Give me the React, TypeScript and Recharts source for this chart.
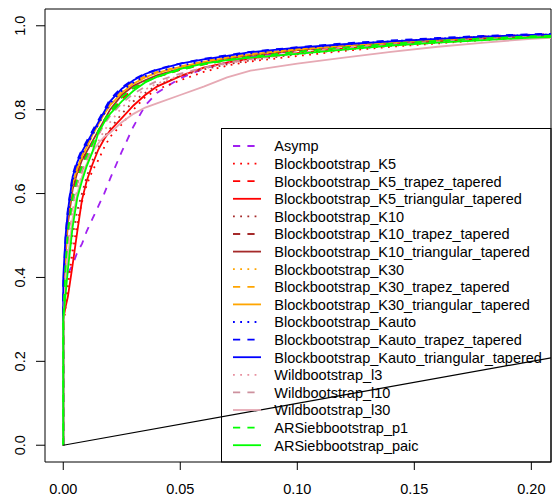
import React from "react";
import { LineChart, Line, XAxis, YAxis, ReferenceArea } from "recharts";

// False positive rate grid (shared by all curves)
const fpr = [0, 0, 0.001, 0.002, 0.004, 0.006, 0.008, 0.01, 0.0125, 0.015, 0.0175, 0.02, 0.025, 0.03, 0.035, 0.04, 0.05, 0.06, 0.07, 0.08, 0.1, 0.12, 0.14, 0.16, 0.18, 0.2, 0.22];

// True positive rates per method
const asymp = [0, 0.36, 0.39, 0.41, 0.43, 0.46, 0.48, 0.51, 0.54, 0.57, 0.6, 0.635, 0.7, 0.76, 0.81, 0.84, 0.875, 0.898, 0.912, 0.926, 0.942, 0.952, 0.962, 0.969, 0.975, 0.979, 0.982];
const bbK5 = [0, 0.28, 0.33, 0.38, 0.46, 0.53, 0.58, 0.62, 0.655, 0.68, 0.71, 0.735, 0.765, 0.8, 0.83, 0.848, 0.87, 0.89, 0.905, 0.915, 0.928, 0.94, 0.95, 0.958, 0.966, 0.972, 0.975];
const bbK5Trapez = [0, 0.3, 0.42, 0.5, 0.58, 0.625, 0.655, 0.68, 0.71, 0.74, 0.77, 0.79, 0.825, 0.85, 0.867, 0.878, 0.895, 0.908, 0.918, 0.926, 0.938, 0.948, 0.957, 0.964, 0.97, 0.975, 0.978];
const bbK5Tri = [0, 0.3, 0.33, 0.355, 0.43, 0.51, 0.585, 0.63, 0.67, 0.705, 0.73, 0.75, 0.78, 0.81, 0.835, 0.855, 0.88, 0.9, 0.912, 0.922, 0.935, 0.946, 0.955, 0.963, 0.969, 0.974, 0.977];
const bbK10 = [0, 0.28, 0.36, 0.42, 0.5, 0.56, 0.6, 0.64, 0.68, 0.71, 0.735, 0.755, 0.79, 0.82, 0.84, 0.858, 0.88, 0.896, 0.908, 0.918, 0.932, 0.943, 0.952, 0.96, 0.967, 0.973, 0.976];
const bbK10Trapez = [0, 0.3, 0.44, 0.52, 0.6, 0.64, 0.67, 0.695, 0.72, 0.75, 0.775, 0.795, 0.83, 0.853, 0.868, 0.88, 0.897, 0.91, 0.92, 0.928, 0.94, 0.95, 0.958, 0.965, 0.971, 0.976, 0.979];
const bbK10Tri = [0, 0.3, 0.45, 0.53, 0.61, 0.65, 0.68, 0.7, 0.725, 0.75, 0.775, 0.8, 0.835, 0.857, 0.87, 0.882, 0.898, 0.912, 0.922, 0.93, 0.942, 0.952, 0.96, 0.966, 0.972, 0.977, 0.98];
const bbK30 = [0, 0.25, 0.45, 0.54, 0.62, 0.655, 0.685, 0.71, 0.74, 0.765, 0.79, 0.81, 0.842, 0.862, 0.876, 0.886, 0.9, 0.912, 0.922, 0.93, 0.942, 0.952, 0.96, 0.967, 0.973, 0.977, 0.98];
const bbK30Trapez = [0, 0.22, 0.47, 0.56, 0.63, 0.665, 0.69, 0.715, 0.745, 0.77, 0.795, 0.815, 0.847, 0.867, 0.88, 0.89, 0.903, 0.915, 0.925, 0.933, 0.945, 0.954, 0.962, 0.968, 0.974, 0.978, 0.981];
const bbK30Tri = [0, 0.3, 0.46, 0.55, 0.625, 0.66, 0.69, 0.71, 0.74, 0.765, 0.79, 0.81, 0.84, 0.862, 0.877, 0.888, 0.902, 0.914, 0.924, 0.932, 0.944, 0.953, 0.961, 0.967, 0.973, 0.977, 0.98];
const bbKauto = [0, 0.35, 0.48, 0.55, 0.63, 0.67, 0.695, 0.715, 0.74, 0.765, 0.79, 0.815, 0.845, 0.865, 0.88, 0.89, 0.905, 0.916, 0.926, 0.934, 0.946, 0.955, 0.963, 0.969, 0.974, 0.978, 0.981];
const bbKautoTrapez = [0, 0.38, 0.5, 0.565, 0.645, 0.68, 0.705, 0.725, 0.75, 0.775, 0.8, 0.825, 0.853, 0.872, 0.886, 0.896, 0.91, 0.921, 0.93, 0.938, 0.949, 0.958, 0.965, 0.971, 0.976, 0.98, 0.982];
const bbKautoTri = [0, 0.4, 0.5, 0.56, 0.64, 0.675, 0.7, 0.72, 0.745, 0.77, 0.795, 0.82, 0.85, 0.87, 0.885, 0.895, 0.91, 0.92, 0.928, 0.937, 0.948, 0.956, 0.963, 0.969, 0.974, 0.978, 0.98];
const wbL3 = [0, 0.28, 0.4, 0.48, 0.56, 0.61, 0.645, 0.67, 0.7, 0.725, 0.75, 0.77, 0.805, 0.83, 0.848, 0.862, 0.882, 0.898, 0.91, 0.92, 0.934, 0.945, 0.954, 0.961, 0.967, 0.973, 0.976];
const wbL10 = [0, 0.27, 0.42, 0.5, 0.58, 0.625, 0.655, 0.68, 0.71, 0.74, 0.765, 0.785, 0.815, 0.838, 0.855, 0.868, 0.886, 0.9, 0.912, 0.921, 0.935, 0.946, 0.955, 0.962, 0.968, 0.974, 0.977];
const wbL30 = [0, 0.28, 0.4, 0.45, 0.54, 0.6, 0.64, 0.67, 0.7, 0.72, 0.735, 0.745, 0.77, 0.79, 0.805, 0.815, 0.835, 0.855, 0.877, 0.893, 0.91, 0.924, 0.938, 0.95, 0.96, 0.969, 0.974];
const arsP1 = [0, 0.3, 0.43, 0.51, 0.59, 0.635, 0.665, 0.69, 0.72, 0.75, 0.775, 0.795, 0.83, 0.852, 0.867, 0.878, 0.895, 0.908, 0.918, 0.926, 0.938, 0.948, 0.957, 0.964, 0.97, 0.975, 0.978];
const arsPaic = [0, 0.3, 0.36, 0.42, 0.52, 0.59, 0.63, 0.665, 0.7, 0.745, 0.77, 0.79, 0.82, 0.845, 0.865, 0.878, 0.897, 0.91, 0.918, 0.924, 0.933, 0.943, 0.953, 0.96, 0.966, 0.972, 0.975];

// Reference diagonal
const diagX = [0, 1];
const diagY = [0, 1];

const xTicks = [0, 0.05, 0.1, 0.15, 0.2];
const yTicks = [0, 0.2, 0.4, 0.6, 0.8, 1.0];

const DOT = "1.8 5.4";
const DASH = "7.2 7.2";

const series = [
  { name: "Asymp", tpr: asymp, color: "#A020F0", dash: DASH },
  { name: "Blockbootstrap_K5", tpr: bbK5, color: "#FF0000", dash: DOT },
  { name: "Blockbootstrap_K5_trapez_tapered", tpr: bbK5Trapez, color: "#FF0000", dash: DASH },
  { name: "Blockbootstrap_K5_triangular_tapered", tpr: bbK5Tri, color: "#FF0000", dash: undefined },
  { name: "Blockbootstrap_K10", tpr: bbK10, color: "#A52A2A", dash: DOT },
  { name: "Blockbootstrap_K10_trapez_tapered", tpr: bbK10Trapez, color: "#A52A2A", dash: DASH },
  { name: "Blockbootstrap_K10_triangular_tapered", tpr: bbK10Tri, color: "#A52A2A", dash: undefined },
  { name: "Blockbootstrap_K30", tpr: bbK30, color: "#FFA500", dash: DOT },
  { name: "Blockbootstrap_K30_trapez_tapered", tpr: bbK30Trapez, color: "#FFA500", dash: DASH },
  { name: "Blockbootstrap_K30_triangular_tapered", tpr: bbK30Tri, color: "#FFA500", dash: undefined },
  { name: "Blockbootstrap_Kauto", tpr: bbKauto, color: "#0000FF", dash: DOT },
  { name: "Blockbootstrap_Kauto_trapez_tapered", tpr: bbKautoTrapez, color: "#0000FF", dash: DASH },
  { name: "Blockbootstrap_Kauto_triangular_tapered", tpr: bbKautoTri, color: "#0000FF", dash: undefined },
  { name: "Wildbootstrap_l3", tpr: wbL3, color: "#E8909F", dash: DOT },
  { name: "Wildbootstrap_l10", tpr: wbL10, color: "#CD919E", dash: DASH },
  { name: "Wildbootstrap_l30", tpr: wbL30, color: "#E6A9B4", dash: undefined },
  { name: "ARSiebbootstrap_p1", tpr: arsP1, color: "#00FF00", dash: DASH },
  { name: "ARSiebbootstrap_paic", tpr: arsPaic, color: "#00FF00", dash: undefined },
];

const FONT = "'Liberation Sans', Arial, sans-serif";
const FS = 14.5;

const XTick = (props: any) => {
  const { x, y, payload } = props;
  return (
    <text x={x} y={y + 24} textAnchor="middle" fontFamily={FONT} fontSize={FS} fill="#000">
      {Number(payload.value).toFixed(2)}
    </text>
  );
};

const YTick = (props: any) => {
  const { x, y, payload } = props;
  const tx = x - 11;
  return (
    <text x={tx} y={y} transform={`rotate(-90, ${tx}, ${y})`} textAnchor="middle" fontFamily={FONT} fontSize={FS} fill="#000">
      {Number(payload.value).toFixed(1)}
    </text>
  );
};

const LegendBox = () => {
  const rowH = 17.6;
  const first = 18;
  return (
    <svg width={331} height={335} style={{ position: "absolute", left: 221, top: 128 }}>
      <rect x={0.5} y={0.5} width={329.5} height={333.5} fill="none" stroke="#000" strokeWidth={1} />
      {series.map((s, i) => {
        const cy = first + i * rowH;
        return (
          <g key={s.name}>
            <line x1={12} x2={40} y1={cy} y2={cy} stroke={s.color} strokeWidth={1.8} strokeDasharray={s.dash} />
            <text x={53.3} y={cy + 5.3} fontFamily={FONT} fontSize={FS} fill="#000">
              {s.name}
            </text>
          </g>
        );
      })}
    </svg>
  );
};

export default function App() {
  const diag = diagX.map((x, i) => ({ x, y: diagY[i] }));
  return (
    <div style={{ position: "absolute", left: 0, top: 0, width: 553, height: 501, background: "#fff" }}>
      <LineChart width={553} height={501} margin={{ top: 9, right: 2, bottom: 0, left: 0 }}>
        <XAxis
          type="number"
          dataKey="x"
          domain={[-0.0078, 0.2084]}
          allowDataOverflow
          ticks={xTicks}
          interval={0}
          height={39}
          axisLine={false}
          tickLine={{ stroke: "#000", strokeWidth: 1 }}
          tickSize={8}
          tickMargin={0}
          tick={<XTick />}
        />
        <YAxis
          type="number"
          dataKey="y"
          domain={[-0.04, 1.04]}
          allowDataOverflow
          ticks={yTicks}
          interval={0}
          width={45}
          axisLine={false}
          tickLine={{ stroke: "#000", strokeWidth: 1 }}
          tickSize={9}
          tickMargin={0}
          tick={<YTick />}
        />
        <ReferenceArea x1={-0.0078} x2={0.2084} y1={-0.04} y2={1.04} fill="none" stroke="#000" strokeWidth={1} ifOverflow="visible" />
        {series.map((s) => (
          <Line
            key={s.name}
            data={fpr.map((x, i) => ({ x, y: s.tpr[i] }))}
            dataKey="y"
            type="linear"
            stroke={s.color}
            strokeWidth={1.8}
            strokeDasharray={s.dash}
            dot={false}
            activeDot={false}
            isAnimationActive={false}
            legendType="none"
          />
        ))}
        <Line data={diag} dataKey="y" type="linear" stroke="#000" strokeWidth={1.2} dot={false} activeDot={false} isAnimationActive={false} />
      </LineChart>
      <LegendBox />
    </div>
  );
}
